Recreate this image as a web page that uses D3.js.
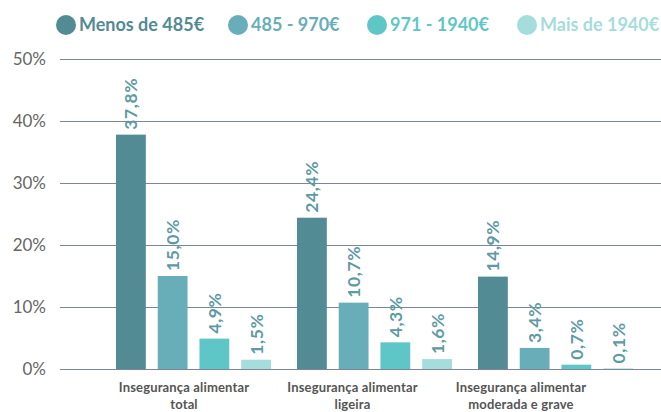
<!DOCTYPE html>
<html>
<head>
<meta charset="utf-8">
<script src="https://cdn.jsdelivr.net/npm/d3@7"></script>
<style>
  body { margin: 0; background: #fff; }
  #chart { width: 661px; height: 412px; }
  text { font-family: Lato, "Open Sans", sans-serif; }
</style>
</head>
<body>
<div id="chart"></div>
<script>
const categories = [["Insegurança alimentar", "total"], ["Insegurança alimentar", "ligeira"], ["Insegurança alimentar", "moderada e grave"]];
const series = ["Menos de 485€", "485 - 970€", "971 - 1940€", "Mais de 1940€"];
const colors = ["#528b93", "#67aeb8", "#5fc6c7", "#a5dcdc"];
const values = [
  [37.8, 15.0, 4.9, 1.5],
  [24.4, 10.7, 4.3, 1.6],
  [14.9, 3.4, 0.7, 0.1]
];
const yTicks = [0, 10, 20, 30, 40, 50];

const svg = d3.select("#chart").append("svg")
  .attr("width", 661)
  .attr("height", 412);

const y = d3.scaleLinear().domain([0, 50]).range([369, 59]);

const x0 = d3.scaleBand()
  .domain(d3.range(categories.length))
  .range([116, 633])
  .paddingInner(26 / 181)
  .paddingOuter(0);

const x1 = d3.scaleBand()
  .domain(d3.range(series.length))
  .range([0, x0.bandwidth()])
  .paddingInner(12 / 42)
  .paddingOuter(0);

const xLabel = d3.scalePoint()
  .domain(d3.range(categories.length))
  .range([184, 521]);

// gridlines
svg.selectAll(".grid")
  .data(yTicks)
  .join("line")
  .attr("class", "grid")
  .attr("x1", 60)
  .attr("x2", 661)
  .attr("y1", d => y(d) + 0.5)
  .attr("y2", d => y(d) + 0.5)
  .attr("stroke", "#7b8797")
  .attr("stroke-width", 1.2);

svg.selectAll(".ticklabel")
  .data(yTicks)
  .join("text")
  .attr("class", "ticklabel")
  .attr("x", 46)
  .attr("y", d => y(d))
  .attr("dy", "0.35em")
  .attr("text-anchor", "end")
  .attr("fill", "#666")
  .attr("font-size", 17)
  .text(d => d + "%");

// bars
const groups = svg.selectAll(".group")
  .data(values)
  .join("g")
  .attr("class", "group")
  .attr("transform", (d, i) => `translate(${x0(i)},0)`);

groups.selectAll("rect")
  .data(d => d)
  .join("rect")
  .attr("x", (d, i) => x1(i))
  .attr("width", x1.bandwidth())
  .attr("y", d => y(d))
  .attr("height", d => y(0) - y(d))
  .attr("fill", (d, i) => colors[i]);

groups.selectAll(".vlabel")
  .data(d => d)
  .join("text")
  .attr("class", "vlabel")
  .attr("transform", (d, i) => `translate(${x1(i) + x1.bandwidth() / 2 + 6.5},${y(d) - 5}) rotate(-90)`)
  .attr("fill", "#5e9aa3")
  .attr("font-size", 17.5)
  .attr("font-weight", "bold")
  .attr("letter-spacing", 0.6)
  .text(d => d.toFixed(1).replace(".", ",") + "%");

// category labels
const cat = svg.selectAll(".cat")
  .data(categories)
  .join("text")
  .attr("class", "cat")
  .attr("text-anchor", "middle")
  .attr("fill", "#555")
  .attr("font-size", 13)
  .attr("font-weight", "bold")
  .attr("letter-spacing", 0.15);

cat.selectAll("tspan")
  .data((d, i) => d.map(t => ({ t, i })))
  .join("tspan")
  .attr("x", d => xLabel(d.i))
  .attr("y", (d, j) => 392 + j * 17)
  .text(d => d.t);

// legend
const legendX = [66, 238, 377, 527];
const legend = svg.selectAll(".legend")
  .data(series)
  .join("g")
  .attr("class", "legend")
  .attr("transform", (d, i) => `translate(${legendX[i]},25)`);

legend.append("circle")
  .attr("r", 10)
  .attr("fill", (d, i) => colors[i]);

legend.append("text")
  .attr("x", 13)
  .attr("dy", "0.35em")
  .attr("fill", (d, i) => colors[i])
  .attr("font-size", 18)
  .attr("font-weight", "bold")
  .text(d => d);
</script>
</body>
</html>
